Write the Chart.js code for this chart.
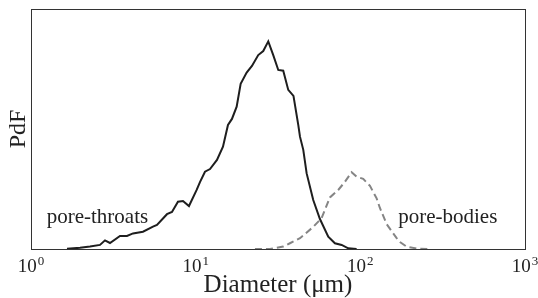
<!DOCTYPE html>
<html>
<head>
<meta charset="utf-8">
<script src="https://cdn.jsdelivr.net/npm/chart.js@4/dist/chart.umd.min.js"></script>
<style>
  html, body { margin: 0; padding: 0; background: #fff; }
  #wrap { width: 538px; height: 298px; position: relative; }
</style>
</head>
<body>
<div id="wrap"><canvas id="c" width="538" height="298"></canvas></div>
<script>
// ---- data ----
const throatDiam = [1.654, 1.984, 2.282, 2.624, 2.814, 3.018, 3.471, 3.827, 4.163, 4.786, 5.505, 5.821, 6.696, 7.180, 7.807, 8.375, 9.106, 10.14, 10.62, 11.39, 12.22, 13.47, 14.65, 15.71, 16.61, 17.74, 18.76, 20.40, 21.97, 23.99, 25.73, 27.60, 29.59, 31.74, 34.03, 36.50, 39.26, 41.98, 43.00, 45.03, 47.21, 51.76, 56.84, 63.85, 70.11, 77.00, 84.46, 94.95];
const throatPdf  = [0.001, 0.005, 0.010, 0.017, 0.036, 0.025, 0.054, 0.054, 0.065, 0.072, 0.093, 0.100, 0.145, 0.154, 0.197, 0.200, 0.179, 0.246, 0.279, 0.322, 0.333, 0.371, 0.426, 0.517, 0.542, 0.593, 0.688, 0.735, 0.763, 0.808, 0.825, 0.865, 0.808, 0.746, 0.743, 0.663, 0.638, 0.517, 0.468, 0.413, 0.315, 0.204, 0.125, 0.051, 0.024, 0.017, 0.003, 0.000];
const bodyDiam = [22.91, 28.26, 34.03, 37.37, 43.00, 51.76, 58.21, 65.38, 73.42, 80.64, 88.55, 94.95, 104.1, 114.4, 125.6, 131.5, 144.4, 166.2, 174.0, 191.0, 219.7, 264.7];
const bodyPdf  = [0.000, 0.000, 0.010, 0.024, 0.045, 0.092, 0.129, 0.215, 0.246, 0.280, 0.320, 0.301, 0.292, 0.263, 0.211, 0.171, 0.104, 0.045, 0.029, 0.010, 0.002, 0.000];
const tickExps = [0, 1, 2, 3];
const tickVals = tickExps.map(e => Math.pow(10, e));
const seriesLabels = ['pore-throats', 'pore-bodies'];
const labelAnchors = [[1.245, 0.108], [169.8, 0.109]];
const xTitle = 'Diameter (\u03bcm)';
const yTitle = 'PdF';

const SERIF = '"Liberation Serif", "Times New Roman", serif';

const toPts = (xs, ys) => xs.map((x, i) => ({x: x, y: ys[i]}));

const framePlugin = {
  id: 'frame',
  afterDraw(chart) {
    const {ctx, chartArea: a, scales} = chart;
    ctx.save();
    ctx.strokeStyle = '#333';
    ctx.lineWidth = 1;
    ctx.strokeRect(Math.round(a.left) + 0.5, Math.round(a.top) + 0.5,
                   Math.round(a.right - a.left), Math.round(a.bottom - a.top));
    // x tick labels with superscript exponents
    const xs = scales.x;
    ctx.fillStyle = '#222';
    ctx.textBaseline = 'alphabetic';
    ctx.textAlign = 'left';
    tickVals.forEach((v, i) => {
      const px = xs.getPixelForValue(v);
      ctx.font = '19px ' + SERIF;
      const wb = ctx.measureText('10').width;
      ctx.font = '13px ' + SERIF;
      const we = ctx.measureText(String(tickExps[i])).width;
      const x0 = px - (wb + 1 + we) / 2;
      ctx.font = '19px ' + SERIF;
      ctx.fillText('10', x0, a.bottom + 23);
      ctx.font = '13px ' + SERIF;
      ctx.fillText(String(tickExps[i]), x0 + wb + 1, a.bottom + 16);
    });
    // series annotations
    ctx.font = '21px ' + SERIF;
    ctx.fillStyle = '#222';
    labelAnchors.forEach((p, i) => {
      ctx.fillText(seriesLabels[i], xs.getPixelForValue(p[0]), scales.y.getPixelForValue(p[1]));
    });
    ctx.restore();
  }
};

new Chart(document.getElementById('c'), {
  type: 'line',
  data: {
    datasets: [
      {
        label: seriesLabels[0],
        data: toPts(throatDiam, throatPdf),
        borderColor: '#1e1e1e',
        borderWidth: 2,
        pointRadius: 0,
        tension: 0,
        fill: false
      },
      {
        label: seriesLabels[1],
        data: toPts(bodyDiam, bodyPdf),
        borderColor: '#858585',
        borderWidth: 2,
        borderDash: [7, 4],
        pointRadius: 0,
        tension: 0,
        fill: false
      }
    ]
  },
  options: {
    responsive: false,
    animation: false,
    layout: { padding: { top: 9, right: 13, left: 0, bottom: 0 } },
    plugins: { legend: { display: false }, tooltip: { enabled: false } },
    scales: {
      x: {
        type: 'logarithmic',
        min: 1,
        max: 1000,
        afterBuildTicks: (s) => { s.ticks = tickVals.map(v => ({value: v})); },
        ticks: { display: false },
        grid: { display: false, drawTicks: false },
        border: { display: false },
        title: {
          display: true,
          text: xTitle,
          color: '#222',
          font: { family: SERIF, size: 25, lineHeight: 1 },
          padding: { top: 24, bottom: 0 }
        }
      },
      y: {
        type: 'linear',
        min: 0,
        max: 1,
        ticks: { display: false },
        grid: { display: false, drawTicks: false },
        border: { display: false },
        title: {
          display: true,
          text: yTitle,
          color: '#222',
          font: { family: SERIF, size: 24, lineHeight: 1 },
          padding: { top: 7, bottom: 0 }
        }
      }
    }
  },
  plugins: [framePlugin]
});
</script>
</body>
</html>
